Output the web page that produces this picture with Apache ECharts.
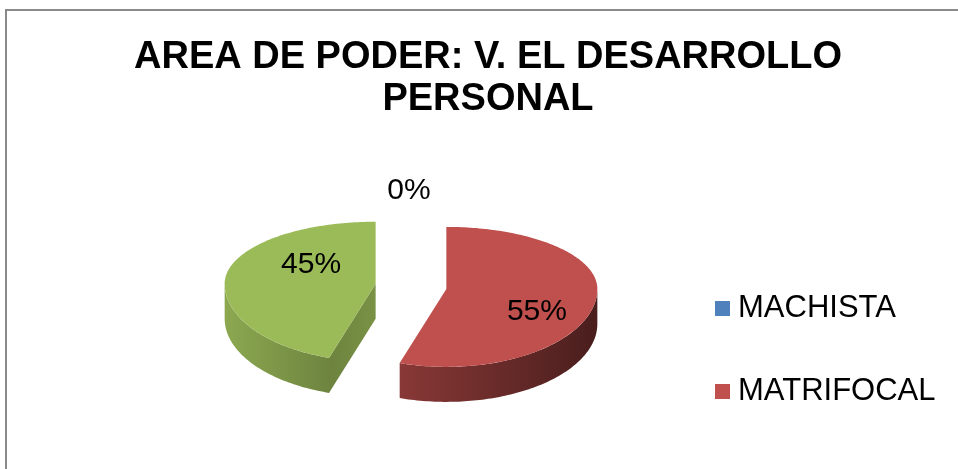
<!DOCTYPE html>
<html>
<head>
<meta charset="utf-8">
<script src="https://cdn.jsdelivr.net/npm/echarts@6/dist/echarts.min.js"></script>
<style>
  html, body { margin: 0; background: #fff; }
  #main { width: 958px; height: 469px; }
</style>
</head>
<body>
<div id="main"></div>
<script>
// datos del grafico
var categorias = ['MACHISTA', 'MATRIFOCAL', 'OTRO'];
var valores = [0, 55, 45];
var leyenda = ['MACHISTA', 'MATRIFOCAL'];
var titulo = 'AREA DE PODER: V. EL DESARROLLO\nPERSONAL';

var colores = ['#4F81BD', '#C0504D', '#9BBB59'];

// geometria del pastel 3D (elipse con algo de perspectiva: fondo mas corto que el frente)
var cx = 411, cy = 286, rx = 151, ryAtras = 62, ryFrente = 78, fondo = 35, separa = 0.237;
var total = valores.reduce(function (a, b) { return a + b; }, 0);

function shade(hex, f) {
  var n = parseInt(hex.slice(1), 16);
  var r = Math.round(((n >> 16) & 255) * f);
  var g = Math.round(((n >> 8) & 255) * f);
  var b = Math.round((n & 255) * f);
  return 'rgb(' + r + ',' + g + ',' + b + ')';
}

function ryDe(t) {
  return Math.cos(t) > 0 ? ryAtras : ryFrente;
}

function punto(ax, ay, t, esc) {
  esc = esc == null ? 1 : esc;
  return [ax + esc * rx * Math.sin(t), ay - esc * ryDe(t) * Math.cos(t)];
}

function angulos(i) {
  var acum = 0;
  for (var k = 0; k < i; k++) acum += valores[k];
  var a0 = acum / total * Math.PI * 2;
  var a1 = (acum + valores[i]) / total * Math.PI * 2;
  return [a0, a1];
}

function arco(ax, ay, a0, a1, dy) {
  var pts = [];
  var n = Math.max(2, Math.ceil((a1 - a0) / 0.02));
  for (var s = 0; s <= n; s++) {
    var p = punto(ax, ay, a0 + (a1 - a0) * s / n);
    pts.push([p[0], p[1] + dy]);
  }
  return pts;
}

function renderSlice(i) {
  return function (params, api) {
    var an = angulos(i), a0 = an[0], a1 = an[1];
    var mid = (a0 + a1) / 2;
    var c = punto(cx, cy, mid, separa);
    var ax = c[0], ay = c[1];
    var col = colores[i];
    var hijos = [];

    if (valores[i] > 0) {
      // cara radial inicial
      if (Math.sin(a0) < -0.01) {
        var p0 = punto(ax, ay, a0);
        hijos.push({
          type: 'polygon',
          shape: { points: [[ax, ay], p0, [p0[0], p0[1] + fondo], [ax, ay + fondo]] },
          style: { fill: new echarts.graphic.LinearGradient(0, 0, 1, 0, [
            { offset: 0, color: shade(col, 0.7) }, { offset: 1, color: shade(col, 0.78) }]) }
        });
      }
      // cara radial final
      if (Math.sin(a1) > 0.01) {
        var p1 = punto(ax, ay, a1);
        hijos.push({
          type: 'polygon',
          shape: { points: [[ax, ay], p1, [p1[0], p1[1] + fondo], [ax, ay + fondo]] },
          style: { fill: shade(col, 0.72) }
        });
      }
      // pared exterior (parte frontal)
      var w0 = Math.max(a0, Math.PI / 2), w1 = Math.min(a1, Math.PI * 1.5);
      if (w1 > w0) {
        var sup = arco(ax, ay, w0, w1, 0);
        var inf = arco(ax, ay, w0, w1, fondo).reverse();
        hijos.push({
          type: 'polygon',
          shape: { points: sup.concat(inf) },
          style: { fill: new echarts.graphic.LinearGradient(ax - rx, 0, ax + rx, 0, [
            { offset: 0, color: shade(col, 0.9) },
            { offset: 0.4, color: shade(col, 0.68) },
            { offset: 1, color: shade(col, 0.38) }], true) }
        });
      }
      // cara superior
      hijos.push({
        type: 'polygon',
        shape: { points: [[ax, ay]].concat(arco(ax, ay, a0, a1, 0)) },
        style: { fill: col }
      });
    }

    // etiqueta de porcentaje
    var lx, ly;
    if (valores[i] > 0) {
      lx = ax + 0.52 * rx * Math.sin(mid) + 13;
      ly = ay - 135 * Math.cos(mid) + 2;
    } else {
      lx = ax - 2;
      ly = ay - 81;
    }
    hijos.push({
      type: 'text',
      x: lx, y: ly,
      style: {
        text: Math.round(valores[i] / total * 100) + '%',
        fontFamily: 'Liberation Sans',
        fontSize: 30,
        fill: '#000',
        align: 'center',
        verticalAlign: 'middle'
      },
      z2: 10
    });
    return { type: 'group', children: hijos };
  };
}

var series = categorias.map(function (nombre, i) {
  return {
    name: nombre,
    type: 'custom',
    coordinateSystem: 'none',
    itemStyle: { color: colores[i] },
    renderItem: renderSlice(i),
    data: [valores[i]]
  };
});

var myChart = echarts.init(document.getElementById('main'));
var option = {
  animation: false,
  color: colores,
  title: {
    text: titulo,
    left: 488,
    textAlign: 'center',
    top: 37,
    padding: 0,
    textStyle: {
      fontFamily: 'Liberation Sans',
      fontWeight: 'bold',
      fontSize: 38,
      lineHeight: 42,
      color: '#000'
    }
  },
  legend: {
    data: leyenda,
    orient: 'vertical',
    left: 715,
    top: 293,
    padding: 0,
    itemGap: 52,
    itemWidth: 15,
    itemHeight: 15,
    icon: 'rect',
    selectedMode: false,
    textStyle: {
      fontFamily: 'Liberation Sans',
      fontSize: 31,
      lineHeight: 31,
      color: '#000',
      padding: [0, 0, 0, 3]
    }
  },
  graphic: [{
    type: 'rect',
    z: -10,
    shape: { x: 6, y: 10, width: 1000, height: 500 },
    style: { fill: 'none', stroke: '#8a8a8a', lineWidth: 2 }
  }],
  series: series
};
myChart.setOption(option);
</script>
</body>
</html>
